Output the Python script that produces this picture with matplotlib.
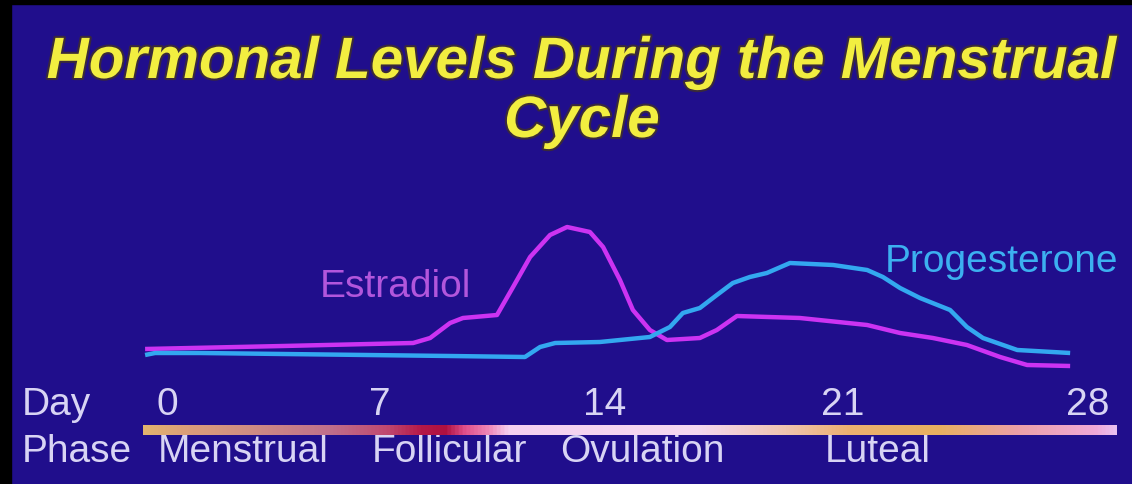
import numpy as np
import matplotlib.pyplot as plt
import matplotlib.patheffects as pe
from matplotlib.colors import LinearSegmentedColormap
from matplotlib.patches import Rectangle

# cycle day vs relative hormone level
estradiol_day = [-0.72, 3.81, 8.03, 8.56, 9.18, 9.58, 10.64, 11.14, 11.67, 12.29,
                 12.82, 13.53, 13.94, 14.44, 14.82, 15.32, 15.82, 16.79, 17.29,
                 17.88, 19.73, 21.69, 22.63, 23.57, 24.54, 25.49, 26.26, 27.49]
estradiol_level = [21, 24, 27, 32, 47, 52, 55, 83, 113, 135,
                   143, 138, 123, 90, 60, 40, 30, 32, 40,
                   54, 52, 45, 37, 32, 25, 13, 5, 4]

progesterone_day = [-0.72, -0.39, 1.08, 9.18, 11.51, 11.98, 12.45, 13.84, 15.32,
                    15.91, 16.29, 16.79, 17.29, 17.76, 18.26, 18.76, 19.44, 20.71,
                    21.69, 22.14, 22.63, 23.20, 24.06, 24.54, 25.00, 25.98, 27.49]
progesterone_level = [15, 17, 17, 14, 13, 23, 27, 28, 33,
                      43, 57, 62, 75, 87, 93, 97, 107, 105,
                      100, 93, 82, 72, 60, 43, 32, 20, 17]

day_ticks = [0, 7, 14, 21, 28]
phase_names = ['Menstrual', 'Follicular', 'Ovulation', 'Luteal']
phase_start = [-0.30, 6.74, 12.6, 20.47]

W, H = 1132, 484
bg = '#200e8c'
txt = '#d8d4f4'
font = 'Liberation Sans'

# day axis is drawn a bit stretched towards the end of the cycle
knot_day = [-7, 0, 7, 14, 21, 28, 35]
knot_px = [-46, 167, 380, 605, 843, 1088, 1333]
fwd = lambda d: np.interp(d, knot_day, knot_px)
inv = lambda p: np.interp(p, knot_px, knot_day)

fig = plt.figure(figsize=(W / 100, H / 100), dpi=100, facecolor=bg)
ax = fig.add_axes([0, 0, 1, 1])
ax.set_facecolor(bg)
ax.set_xscale('function', functions=(fwd, inv))
ax.set_xlim(inv(0), inv(W))
ax.set_ylim(370 - H, 370)
ax.axis('off')

ax.plot(estradiol_day, estradiol_level, color='#cc33f2', lw=3.2,
        solid_capstyle='butt', zorder=3)
ax.plot(progesterone_day, progesterone_level, color='#33a8f0', lw=3.2,
        solid_capstyle='butt', zorder=4)

ax.text(7.47, 83, 'Estradiol', color='#b256dc', fontsize=28, family=font,
        ha='center', va='center')
ax.text(22.2, 108, 'Progesterone', color='#3cb0f0', fontsize=28, family=font,
        ha='left', va='center')

# axis labels along the bottom
xt = ax.get_xaxis_transform()
fig.text(22 / W, 1 - 405 / H, 'Day', color=txt, fontsize=28, family=font,
         ha='left', va='center')
fig.text(22 / W, 1 - 452 / H, 'Phase', color=txt, fontsize=28, family=font,
         ha='left', va='center')
for d in day_ticks:
    ax.text(d, 1 - 405 / H, str(d), transform=xt, color=txt, fontsize=28,
            family=font, ha='center', va='center')
for name, d in zip(phase_names, phase_start):
    ax.text(d, 1 - 452 / H, name, transform=xt, color=txt, fontsize=28,
            family=font, ha='left', va='center')

# phase colour strip
stops = [(0.0, '#e2b46e'), (0.04, '#dca07a'), (0.11, '#cf8c84'), (0.19, '#c0708c'),
         (0.25, '#c04870'), (0.285, '#b41848'), (0.31, '#b01040'), (0.33, '#e0508c'),
         (0.355, '#f088b8'), (0.375, '#f4d0f0'), (0.57, '#f4d8f0'), (0.66, '#f0c4b0'),
         (0.726, '#ecb070'), (0.818, '#e8b060'), (0.90, '#eca0a8'), (0.98, '#f0a8d8'),
         (1.0, '#e8c0f0')]
cmap = LinearSegmentedColormap.from_list('phase', stops)
bax = fig.add_axes([143 / W, 1 - 435 / H, (1117 - 143) / W, 10 / H])
bax.imshow(np.linspace(0, 1, 512)[None, :], aspect='auto', cmap=cmap)
bax.axis('off')

# title
title_kw = dict(color='#f2ee40', fontsize=42, family=font, weight='bold',
                style='italic', ha='center', va='baseline',
                path_effects=[pe.withStroke(linewidth=3, foreground='#3a2a3a')])
fig.text(582 / W, 1 - 78 / H, 'Hormonal Levels During the Menstrual', **title_kw)
fig.text(582 / W, 1 - 137 / H, 'Cycle', **title_kw)

# black frame edges
fig.patches.append(Rectangle((0, 0), 11 / W, 1, transform=fig.transFigure,
                             color='black', zorder=10))
fig.patches.append(Rectangle((0, 1 - 4 / H), 1, 4 / H, transform=fig.transFigure,
                             color='black', zorder=10))

fig.savefig('out.png', dpi=100, facecolor=bg)
